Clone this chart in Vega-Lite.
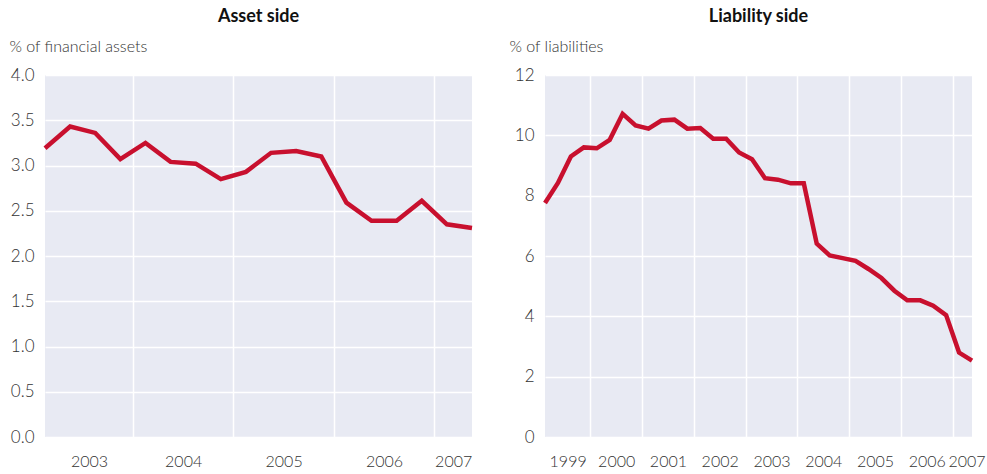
{
  "$schema": "https://vega.github.io/schema/vega-lite/v6.json",
  "padding": {"left": 9, "top": 8, "right": 0, "bottom": 5},
  "spacing": 28,
  "datasets": {
    "assets": [
      {"t": 2003.125, "v": 3.19}, {"t": 2003.375, "v": 3.43}, {"t": 2003.625, "v": 3.36}, {"t": 2003.875, "v": 3.07},
      {"t": 2004.125, "v": 3.25}, {"t": 2004.375, "v": 3.04}, {"t": 2004.625, "v": 3.02}, {"t": 2004.875, "v": 2.85},
      {"t": 2005.125, "v": 2.93}, {"t": 2005.375, "v": 3.14}, {"t": 2005.625, "v": 3.16}, {"t": 2005.875, "v": 3.10},
      {"t": 2006.125, "v": 2.59}, {"t": 2006.375, "v": 2.39}, {"t": 2006.625, "v": 2.39}, {"t": 2006.875, "v": 2.61},
      {"t": 2007.125, "v": 2.35}, {"t": 2007.375, "v": 2.31}
    ],
    "liabilities": [
      {"t": 1999.125, "v": 7.76}, {"t": 1999.375, "v": 8.42}, {"t": 1999.625, "v": 9.30}, {"t": 1999.875, "v": 9.60},
      {"t": 2000.125, "v": 9.57}, {"t": 2000.375, "v": 9.85}, {"t": 2000.625, "v": 10.71}, {"t": 2000.875, "v": 10.33},
      {"t": 2001.125, "v": 10.22}, {"t": 2001.375, "v": 10.49}, {"t": 2001.625, "v": 10.52}, {"t": 2001.875, "v": 10.22},
      {"t": 2002.125, "v": 10.24}, {"t": 2002.375, "v": 9.89}, {"t": 2002.625, "v": 9.89}, {"t": 2002.875, "v": 9.43},
      {"t": 2003.125, "v": 9.21}, {"t": 2003.375, "v": 8.58}, {"t": 2003.625, "v": 8.53}, {"t": 2003.875, "v": 8.41},
      {"t": 2004.125, "v": 8.41}, {"t": 2004.375, "v": 6.41}, {"t": 2004.625, "v": 6.02}, {"t": 2004.875, "v": 5.93},
      {"t": 2005.125, "v": 5.84}, {"t": 2005.375, "v": 5.57}, {"t": 2005.625, "v": 5.27}, {"t": 2005.875, "v": 4.85},
      {"t": 2006.125, "v": 4.53}, {"t": 2006.375, "v": 4.53}, {"t": 2006.625, "v": 4.35}, {"t": 2006.875, "v": 4.04},
      {"t": 2007.125, "v": 2.80}, {"t": 2007.375, "v": 2.53}
    ]
  },
  "hconcat": [
    {
      "title": {"text": "Asset side", "offset": 12},
      "width": 427,
      "height": 362,
      "data": {"name": "assets"},
      "mark": {"type": "line", "color": "#c8102e", "strokeWidth": 4.5, "strokeJoin": "miter"},
      "encoding": {
        "x": {
          "field": "t", "type": "quantitative",
          "scale": {"domain": [2003.125, 2007.375], "nice": false, "zero": false},
          "axis": {
            "title": null,
            "values": [2003.5625, 2004, 2004.5, 2005, 2005.5, 2006, 2006.5, 2007, 2007.1875],
            "labelExpr": "datum.value % 1 == 0 ? '' : format(floor(datum.value), 'd')",
            "gridOpacity": {"condition": {"test": "datum.value % 1 == 0", "value": 1}, "value": 0},
            "labelFlush": false,
            "labelOverlap": false,
            "labelPadding": 16
          }
        },
        "y": {
          "field": "v", "type": "quantitative",
          "scale": {"domain": [0, 4], "nice": false},
          "axis": {
            "title": "% of financial assets",
            "values": [0, 0.5, 1, 1.5, 2, 2.5, 3, 3.5, 4],
            "format": ".1f",
            "labelPadding": 11,
            "titleAngle": 0,
            "titleAlign": "left",
            "titleBaseline": "alphabetic",
            "titleX": -36,
            "titleY": -24
          }
        }
      }
    },
    {
      "title": {"text": "Liability side", "offset": 12},
      "width": 427,
      "height": 362,
      "data": {"name": "liabilities"},
      "mark": {"type": "line", "color": "#c8102e", "strokeWidth": 4.5, "strokeJoin": "miter"},
      "encoding": {
        "x": {
          "field": "t", "type": "quantitative",
          "scale": {"domain": [1999.125, 2007.375], "nice": false, "zero": false},
          "axis": {
            "title": null,
            "values": [1999.5625, 2000, 2000.5, 2001, 2001.5, 2002, 2002.5, 2003, 2003.5, 2004, 2004.5, 2005, 2005.5, 2006, 2006.5, 2007, 2007.27],
            "labelExpr": "datum.value % 1 == 0 ? '' : format(floor(datum.value), 'd')",
            "gridOpacity": {"condition": {"test": "datum.value % 1 == 0", "value": 1}, "value": 0},
            "labelFlush": false,
            "labelOverlap": false,
            "labelPadding": 16
          }
        },
        "y": {
          "field": "v", "type": "quantitative",
          "scale": {"domain": [0, 12], "nice": false},
          "axis": {
            "title": "% of liabilities",
            "values": [0, 2, 4, 6, 8, 10, 12],
            "format": "d",
            "labelPadding": 11,
            "titleAngle": 0,
            "titleAlign": "left",
            "titleBaseline": "alphabetic",
            "titleX": -36,
            "titleY": -24
          }
        }
      }
    }
  ],
  "config": {
    "font": "Lato",
    "view": {"fill": "#e8eaf3", "stroke": null},
    "axis": {
      "labelFont": "Lato",
      "labelFontSize": 16,
      "labelFontWeight": 300,
      "labelColor": "#333333",
      "titleFont": "Lato",
      "titleFontSize": 16,
      "titleFontWeight": 300,
      "titleColor": "#333333",
      "domain": false,
      "ticks": false,
      "gridColor": "#ffffff",
      "gridWidth": 1.5,
      "gridOpacity": 1
    },
    "axisY": {"labelFontSize": 17},
    "title": {"font": "Lato", "fontSize": 18, "fontWeight": "bold", "color": "#111111", "anchor": "middle"}
  }
}
